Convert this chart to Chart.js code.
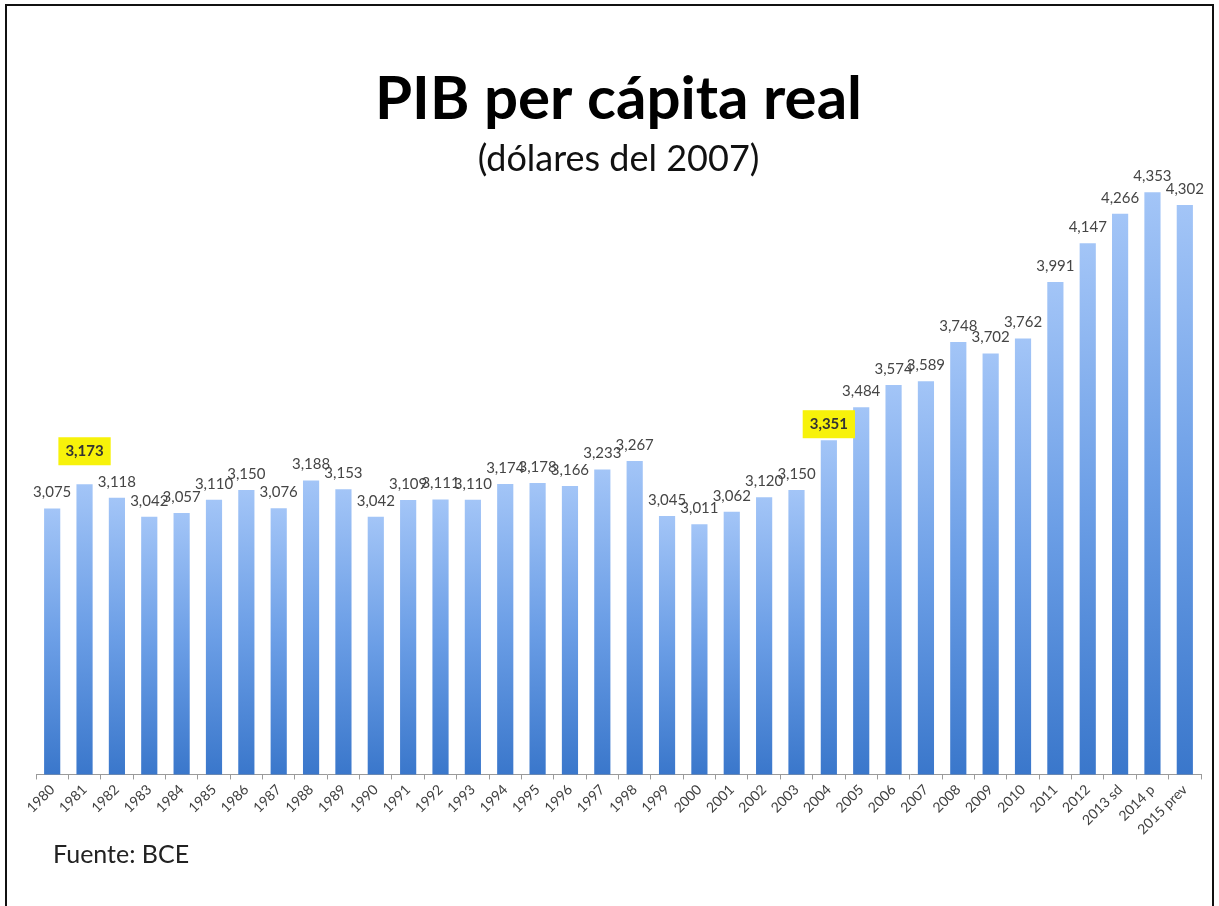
<!DOCTYPE html>
<html>
<head>
<meta charset="utf-8">
<title>PIB per cápita real</title>
<script src="https://cdn.jsdelivr.net/npm/chart.js@4.4.1/dist/chart.umd.min.js"></script>
<style>
    body { margin: 0; background: #fff; }
    #wrap { position: absolute; left: 0; top: 0; width: 1219px; height: 906px; }
    #frame {
        position: absolute; left: 5px; top: 4px; width: 1205px; height: 920px;
        border: 2px solid #111; pointer-events: none;
    }
    #source {
        position: absolute; left: 53px; top: 838px;
        font-family: Lato, "Open Sans", sans-serif; font-size: 25px; color: #222;
    }
</style>
</head>
<body>
<div id="wrap">
    <canvas id="pibChart" width="1219" height="906"></canvas>
    <div id="frame"></div>
    <div id="source">Fuente: BCE</div>
</div>
<script>
const years = ["1980", "1981", "1982", "1983", "1984", "1985", "1986", "1987", "1988", "1989",
    "1990", "1991", "1992", "1993", "1994", "1995", "1996", "1997", "1998", "1999",
    "2000", "2001", "2002", "2003", "2004", "2005", "2006", "2007", "2008", "2009",
    "2010", "2011", "2012", "2013 sd", "2014 p", "2015 prev"];
const pibPerCapita = [3075, 3173, 3118, 3042, 3057, 3110, 3150, 3076, 3188, 3153,
    3042, 3109, 3111, 3110, 3174, 3178, 3166, 3233, 3267, 3045,
    3011, 3062, 3120, 3150, 3351, 3484, 3574, 3589, 3748, 3702,
    3762, 3991, 4147, 4266, 4353, 4302];
const highlightedYears = ["1981", "2004"];

const fmt = v => v.toLocaleString("en-US");

// per-bar vertical gradient, light at the top, darker at the base
function barGradient(context) {
    const chart = context.chart;
    if (!chart.chartArea || context.dataIndex === undefined) return "#6a9ee6";
    const y = chart.scales.y;
    const top = y.getPixelForValue(context.raw);
    const base = y.getPixelForValue(y.min);
    const g = chart.ctx.createLinearGradient(0, top, 0, base);
    g.addColorStop(0, "#a3c5f7");
    g.addColorStop(0.5, "#6b9ee6");
    g.addColorStop(1, "#3a77cb");
    return g;
}

const valueLabels = {
    id: "valueLabels",
    afterDatasetsDraw(chart) {
        const ctx = chart.ctx;
        const bars = chart.getDatasetMeta(0).data;
        ctx.save();
        ctx.textAlign = "center";
        ctx.textBaseline = "middle";
        bars.forEach((bar, i) => {
            const text = fmt(pibPerCapita[i]);
            const hot = highlightedYears.includes(years[i]);
            const ly = bar.y - (hot && i < 10 ? 33 : 16);
            if (hot) {
                ctx.font = "bold 15px Lato, sans-serif";
                const w = ctx.measureText(text).width + 14;
                ctx.fillStyle = "#f7f20a";
                ctx.fillRect(bar.x - w / 2, ly - 14, w, 28);
                ctx.fillStyle = "#333";
            } else {
                ctx.font = "15px Lato, sans-serif";
                ctx.fillStyle = "#454545";
            }
            ctx.fillText(text, bar.x, ly);
        });
        ctx.restore();
    }
};

new Chart(document.getElementById("pibChart"), {
    type: "bar",
    data: {
        labels: years,
        datasets: [{
            label: "PIB per cápita",
            data: pibPerCapita,
            backgroundColor: barGradient,
            barPercentage: 0.5,
            categoryPercentage: 1.0,
        }],
    },
    options: {
        responsive: false,
        animation: false,
        layout: { padding: { top: 44, left: 36, right: 18, bottom: 66 } },
        plugins: {
            legend: { display: false },
            tooltip: { enabled: false },
            title: {
                display: true,
                text: "PIB per cápita real",
                color: "#000",
                font: { family: "Lato, sans-serif", size: 60, weight: "bold", lineHeight: 1.2 },
                padding: { top: 20, bottom: 2 },
            },
            subtitle: {
                display: true,
                text: "(dólares del 2007)",
                color: "#111",
                font: { family: "Lato, sans-serif", size: 36, lineHeight: 1.2 },
                padding: { top: 0, bottom: 0 },
            },
        },
        scales: {
            x: {
                grid: {
                    display: true,
                    offset: true,
                    drawOnChartArea: false,
                    drawTicks: true,
                    tickLength: 5,
                    color: "#9a9a9a",
                },
                border: { color: "#9a9a9a", width: 1 },
                ticks: {
                    color: "#404040",
                    font: { family: "Lato, sans-serif", size: 14 },
                    maxRotation: 45,
                    minRotation: 45,
                    autoSkip: false,
                    padding: 2,
                },
            },
            y: {
                display: false,
                min: 2000,
                max: 4398,
            },
        },
    },
    plugins: [valueLabels],
});
</script>
</body>
</html>
